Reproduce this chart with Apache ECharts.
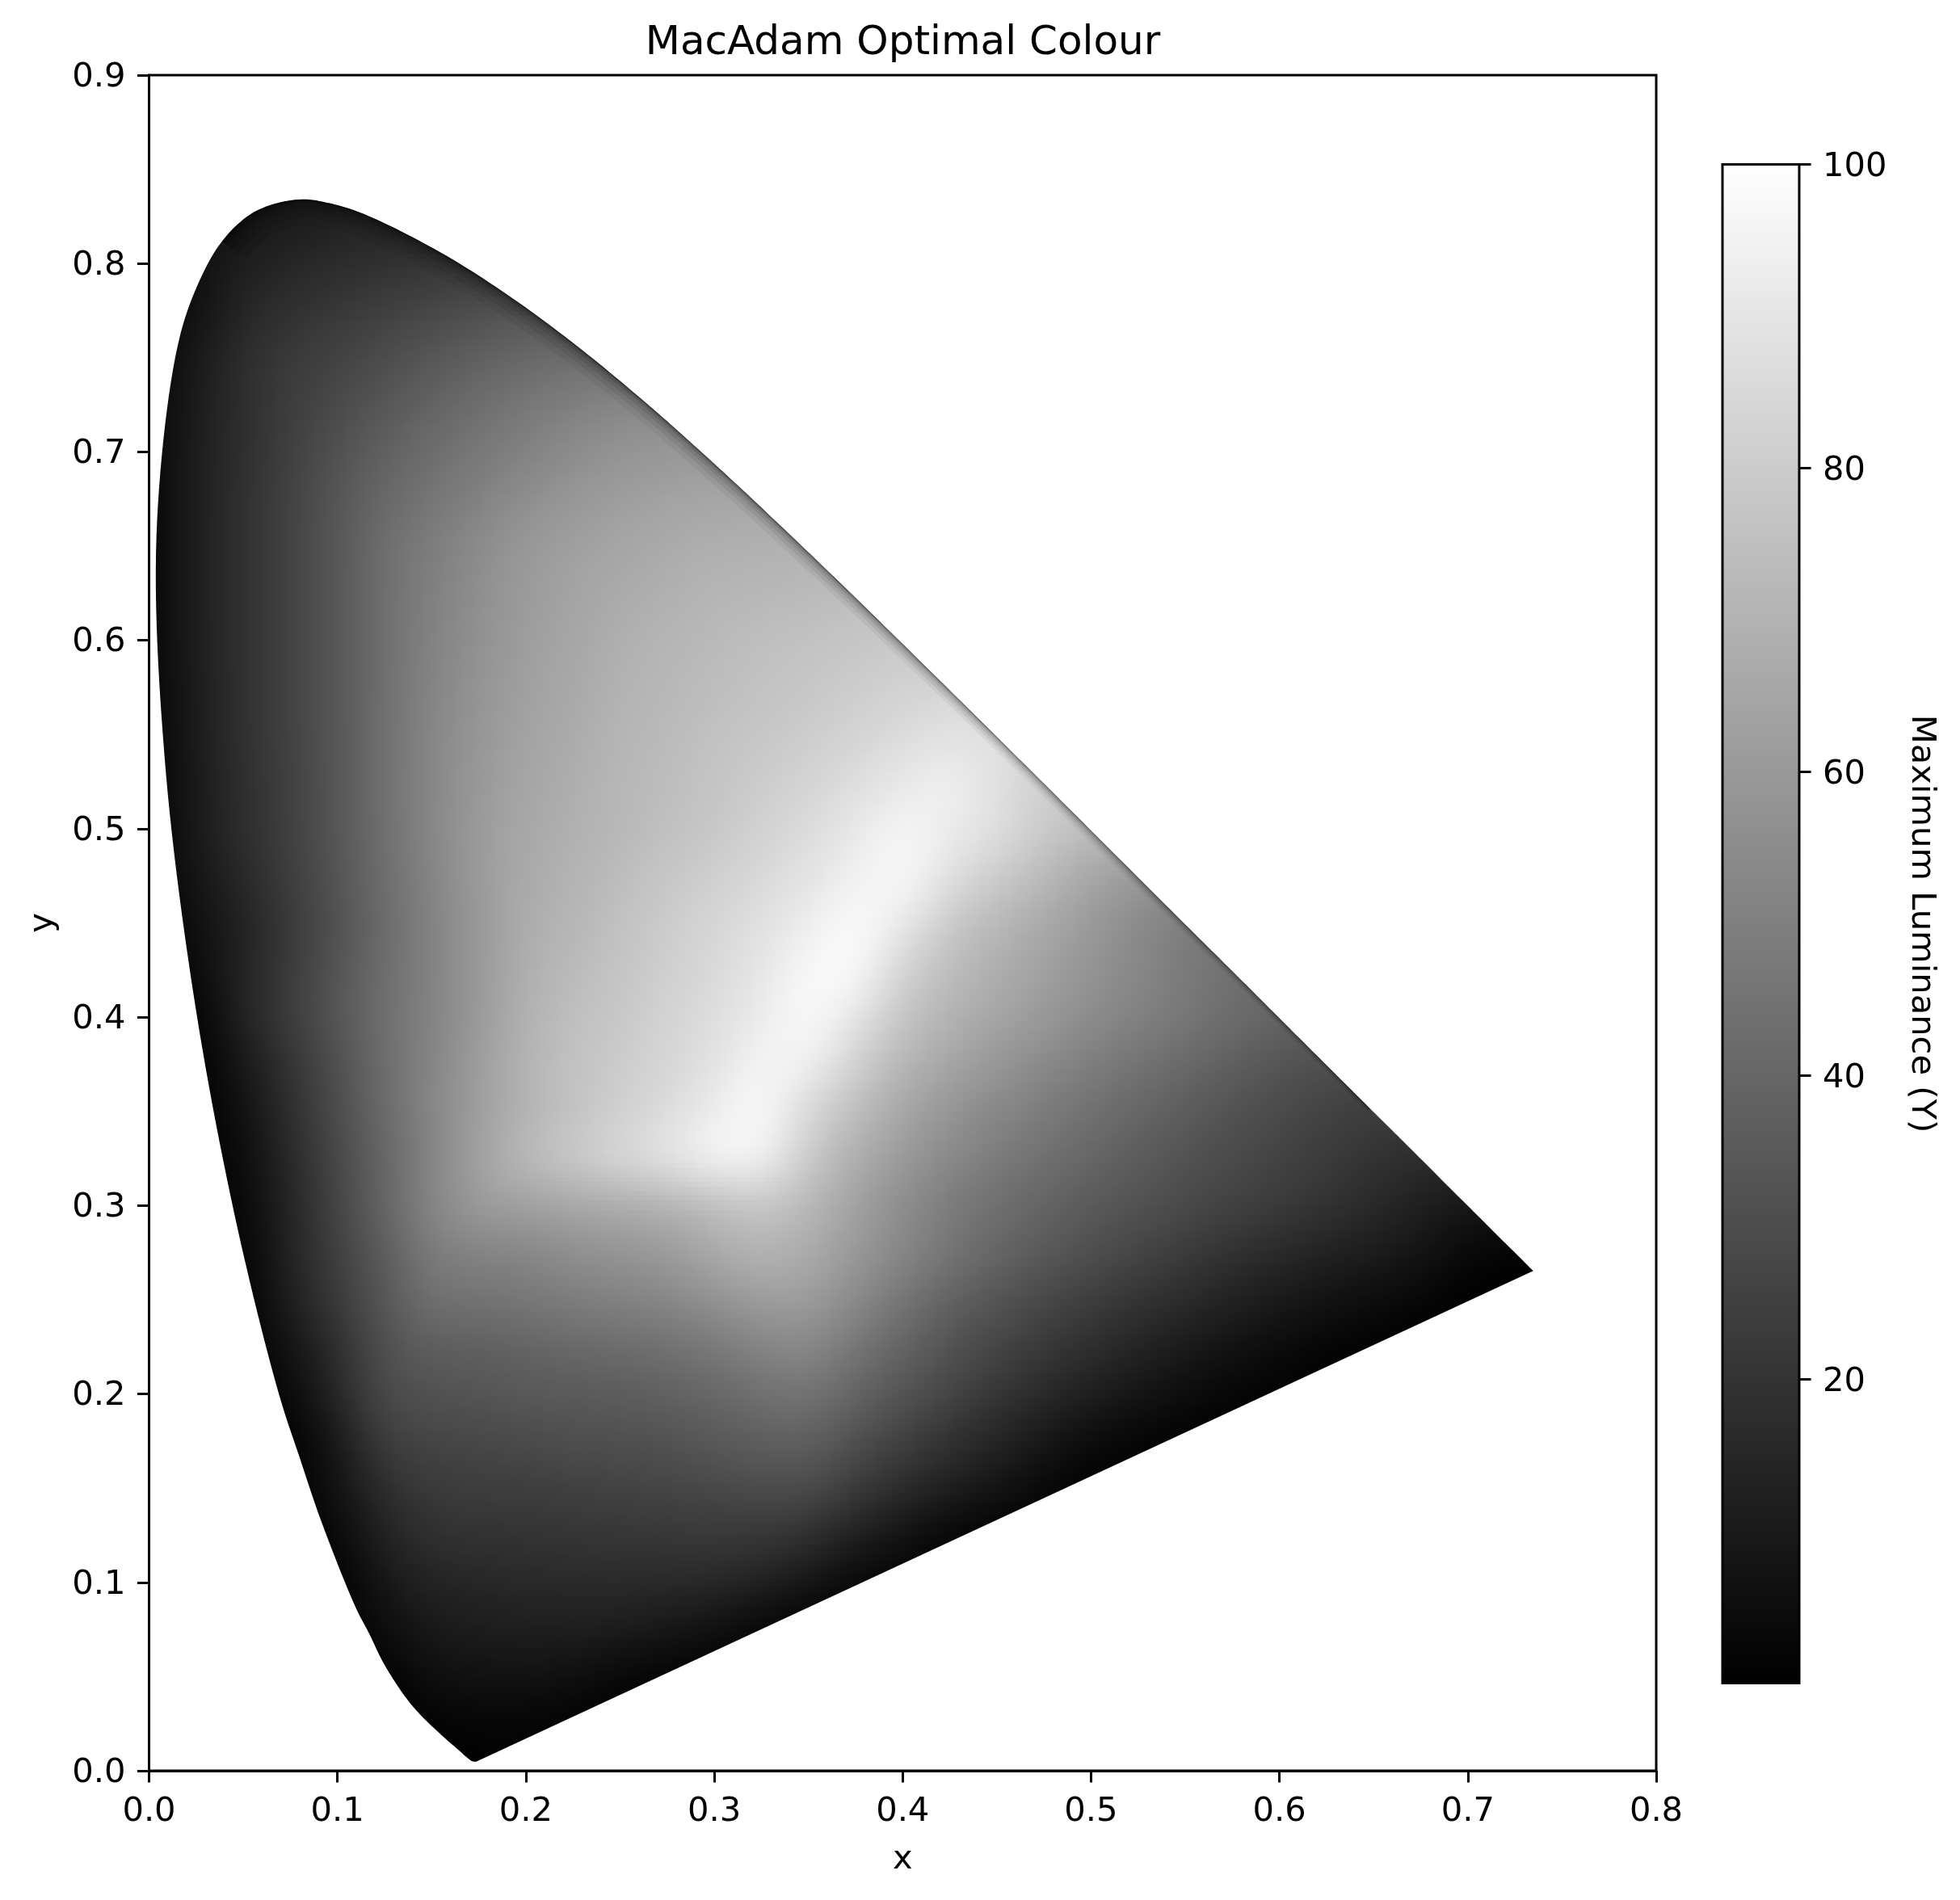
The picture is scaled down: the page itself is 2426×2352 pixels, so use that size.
<!DOCTYPE html>
<html><head><meta charset="utf-8">
<style>html,body{margin:0;padding:0;background:#fff}#c{width:2426px;height:2352px}</style>
<script src="https://cdn.jsdelivr.net/npm/echarts@6/dist/echarts.min.js"></script>
</head><body><div id="c"></div>
<script>
// Boundary of the diagram (x, y pairs in chromaticity units)
var locusX=[.1741,.1733,.1714,.1689,.1644,.1566,.1440,.1355,.1241,.1170,.1096,.0913,.0800,.0687,.0454,.0235,.0082,.0039,.0139,.0238,.0389,.0565,.0795,.0958,.1142,.1547,.1929,.2296,.2658,.3016,.3373,.3731,.4087,.4441,.4788,.5125,.5448,.5752,.6029,.6270,.6482,.6658,.6915,.7079,.7190,.7260,.7300,.7334,.7347];
var locusY=[.0050,.0048,.0051,.0069,.0109,.0177,.0297,.0399,.0578,.0725,.0868,.1327,.1660,.2007,.2950,.4127,.5384,.6548,.7502,.7840,.8120,.8277,.8340,.8320,.8262,.8059,.7816,.7543,.7243,.6923,.6589,.6245,.5896,.5547,.5202,.4866,.4544,.4242,.3965,.3725,.3514,.3340,.3083,.2920,.2809,.2740,.2700,.2666,.2653];
// Maximum luminance read at grid points: rows run from y=0.85 down to y=0, columns from x=0 in steps of 0.025
var gridStep=0.025;
var gridTopY=0.85;
var luminanceRows=[
[2,4,10,11,13,14],
[2,5,8,10,12,13,15],
[2,6,12,15,17,19,20,22],
[2,6,15,19,22,25,28,31,33],
[2,10,18,23,26,30,34,38,41,43],
[2,11,18,24,29,34,39,43,47,50,53,55],
[2,12,18,25,32,38,43,47,51,55,58,59,60],
[2,12,19,26,34,41,46,51,56,59,62,64,65,66],
[2,12,19,26,34,44,49,55,60,63,65,67,69,69,70],
[2,12,19,26,34,44,50,56,61,64,67,69,71,72,73,74],
[2,12,19,26,34,44,51,57,62,65,69,71,73,75,76,78,79],
[2,11,19,26,34,44,52,58,63,66,70,72,74,76,78,80,82,84],
[1,11,19,26,34,44,53,59,64,67,71,73,76,78,80,83,86,89,88],
[1,10,18,25,34,44,53,60,65,68,72,74,77,80,83,87,91,95,88,80],
[1,10,18,25,34,44,53,61,66,69,72,75,78,82,86,91,97,93,88,80,74],
[1,8,16,24,33,43,52,61,67,70,74,78,81,85,89,94,100,88,80,73,65,59],
[0,6,13,22,32,42,51,60,68,71,76,80,84,88,93,100,92,78,72,66,60,54,48],
[0,4,14,23,33,43,51,60,69,73,77,81,85,90,98,100,82,74,68,63,58,53,48,43],
[0,0,14,24,34,44,51,60,70,75,78,83,87,92,100,90,77,70,65,60,55,51,47,43,39],
[0,0,9,20,31,43,52,62,71,76,80,84,88,97,95,82,71,65,59,54,49,45,41,37,33,30],
[0,0,6,18,30,42,53,62,70,76,81,86,93,100,84,74,65,58,53,48,44,40,36,32,29,26,23],
[0,0,4,16,28,40,51,64,74,80,86,91,98,97,79,68,60,54,48,44,40,36,32,29,26,23,20,17],
[0,0,3,14,27,40,53,62,63,65,67,69,73,78,72,63,55,48,43,39,35,32,29,26,23,20,16,12,8],
[0,0,1,14,25,36,49,51,52,56,58,60,67,71,67,60,53,46,40,35,31,27,23,19,16,13,11,8,3,1],
[0,0,0,12,23,34,45,45,47,49,51,53,57,62,62,54,46,38,33,28,24,20,17,13,10,7,5,2,0],
[0,0,0,7,18,32,37,37,39,41,42,44,47,52,54,46,39,32,27,22,18,14,10,7,4,2,0.5,0],
[0,0,0,3,15,30,32,33,35,35,36,38,40,44,46,39,33,27,21,16,12,8,5,2,1,0],
[0,0,0,0,9,25,27,28,29,31,31,32,35,37,38,31,25,19,14,9,4,2,0,0],
[0,0,0,0,7,18,23,24,24,25,26,27,28,30,30,23,17,12,8,3,0,0],
[0,0,0,0,3,14,19,20,20,21,21,22,22,22,19,12,7,2,0,0],
[0,0,0,0,0,9,14,15,16,16,17,16,16,13,8,3,1,0],
[0,0,0,0,0,5,10,11,12,12,11,9,6,2,0],
[0,0,0,0,0,0,6,7,7,6,3,1,0],
[0,0,0,0,0,0,1,2,2,1,0],
[0,0,0,0,0,0,0,1,1,0]
];
var barTicks=[20,40,60,80,100];
var barRange=[0,100];

var FONT='"DejaVu Sans"';
var ROWS=luminanceRows.length,COLS=31;
function val(r,c){
  r=Math.max(0,Math.min(ROWS-1,r));c=Math.max(0,Math.min(COLS-1,c));
  var row=luminanceRows[r];return c<row.length?row[c]:row[row.length-1];
}
function gray(v){var g=Math.max(0,Math.min(255,Math.round(v*2.55)));return 'rgb('+g+','+g+','+g+')';}
function bw(t){var t2=t*t,t3=t2*t;return [(1-t)*(1-t)*(1-t)/6,(3*t3-6*t2+4)/6,(-3*t3+3*t2+3*t+1)/6,t3/6];}
// smooth shading of a grid cell between the values read at its neighbouring grid points
function shade(r,c,tr,tc){
  var a=bw(tr),b=bw(tc),s=0;
  for(var i=0;i<4;i++)for(var j=0;j<4;j++)s+=a[i]*b[j]*val(r-1+i,c-1+j);
  return s;
}
var cells=[];
for(var r=0;r<ROWS-1;r++){
  for(var c=0;c<COLS-1;c++){
    cells.push([c*gridStep,gridTopY-(r+1)*gridStep,r,c]);
  }
}
var SUB=12,cachePts=null;
// centripetal Catmull-Rom through the boundary points
function crPoint(P0,P1,P2,P3,u){
  function tj(ti,a,b){return ti+Math.pow(Math.hypot(b[0]-a[0],b[1]-a[1]),.5)+1e-6;}
  var t0=0,t1=tj(t0,P0,P1),t2=tj(t1,P1,P2),t3=tj(t2,P2,P3),t=t1+(t2-t1)*u,q=[0,0];
  for(var d=0;d<2;d++){
    var A1=(t1-t)/(t1-t0)*P0[d]+(t-t0)/(t1-t0)*P1[d];
    var A2=(t2-t)/(t2-t1)*P1[d]+(t-t1)/(t2-t1)*P2[d];
    var A3=(t3-t)/(t3-t2)*P2[d]+(t-t2)/(t3-t2)*P3[d];
    var B1=(t2-t)/(t2-t0)*A1+(t-t0)/(t2-t0)*A2;
    var B2=(t3-t)/(t3-t1)*A2+(t-t1)/(t3-t1)*A3;
    q[d]=(t2-t)/(t2-t1)*B1+(t-t1)/(t2-t1)*B2;
  }
  return q;
}
function locusPoints(api){
  if(cachePts)return cachePts;
  var p=locusX.map(function(x,i){return api.coord([x,locusY[i]]);}),out=[],n=p.length;
  for(var i=0;i<n-1;i++){
    var p0=i>0?p[i-1]:[2*p[0][0]-p[1][0],2*p[0][1]-p[1][1]];
    var p3=i<n-2?p[i+2]:[2*p[n-1][0]-p[n-2][0],2*p[n-1][1]-p[n-2][1]];
    for(var k=0;k<SUB;k++){out.push(crPoint(p0,p[i],p[i+1],p3,k/SUB));}
  }
  out.push(p[n-1]);
  cachePts=out;return out;
}
var STRIPS=10,STOPS=4;
function renderCell(params,api){
  var x=api.value(0),y=api.value(1),r=api.value(2),c=api.value(3);
  var p0=api.coord([x,y+gridStep]),p1=api.coord([x+gridStep,y]);
  var X0=Math.round(p0[0]),X1=Math.round(p1[0]),Y0=Math.round(p0[1]),Y1=Math.round(p1[1]);
  var kids=[];
  for(var i=0;i<STRIPS;i++){
    var a=Math.round(Y0+(Y1-Y0)*i/STRIPS),b=Math.round(Y0+(Y1-Y0)*(i+1)/STRIPS);
    var t=(i+.5)/STRIPS,stops=[];
    for(var s=0;s<=STOPS;s++){stops.push({offset:s/STOPS,color:gray(shade(r,c,t,s/STOPS))});}
    kids.push({type:'rect',silent:true,shape:{x:X0,y:a,width:X1-X0,height:b-a},
      style:{fill:new echarts.graphic.LinearGradient(0,0,1,0,stops)}});
  }
  return {type:'group',silent:true,clipPath:{type:'polygon',shape:{points:locusPoints(api)}},children:kids};
}
var EDGE_FROM=locusX.indexOf(.0389),EDGE_TO=locusX.indexOf(.6482);
var edgeWidth=[32,5];
var edgeLayers=[[1,.05],[.7,.07],[.45,.09],[.25,.12],[.12,.18],[.05,.35]];
function renderEdge(params,api){
  var pts=locusPoints(api),kids=[];
  var A=EDGE_FROM*SUB,B=EDGE_TO*SUB;
  edgeLayers.forEach(function(l){
    var inner=[],outer=[];
    for(var i=A;i<=B;i++){
      var f=(i-A)/(B-A);
      var W=(edgeWidth[0]*Math.pow(1-f,1.3)+edgeWidth[1])*l[0];
      var tx=pts[i+1][0]-pts[i-1][0],ty=pts[i+1][1]-pts[i-1][1],n=Math.sqrt(tx*tx+ty*ty);
      outer.push(pts[i]);
      inner.unshift([pts[i][0]-ty/n*W,pts[i][1]+tx/n*W]);
    }
    kids.push({type:'polygon',silent:true,shape:{points:outer.concat(inner)},style:{fill:'#000',opacity:l[1]}});
  });
  return {type:'group',silent:true,clipPath:{type:'polygon',shape:{points:pts}},children:kids};
}
function renderBar(params,api){
  var a=api.coord([0,api.value(0)]),b=api.coord([1,api.value(1)]);
  return {type:'rect',silent:true,shape:{x:a[0],y:b[1],width:b[0]-a[0],height:a[1]-b[1]},
    style:{stroke:'#000',lineWidth:3,fill:new echarts.graphic.LinearGradient(0,0,0,1,[{offset:0,color:gray(api.value(1))},{offset:1,color:gray(api.value(0))}])}};
}
function renderBarTick(params,api){
  var p=api.coord([1,api.value(0)]);
  return {type:'line',silent:true,shape:{x1:p[0],y1:p[1],x2:p[0]+14.6,y2:p[1]},style:{stroke:'#000',lineWidth:3}};
}
var axisTxt={color:'#000',fontFamily:FONT,fontSize:41.67};
var line={lineStyle:{color:'#000',width:3}};
var tick={show:true,length:14.6,lineStyle:{color:'#000',width:3}};
var chart=echarts.init(document.getElementById('c'),null,{renderer:'canvas',width:2426,height:2352});
chart.setOption({
  animation:false,backgroundColor:'#fff',
  title:{text:'MacAdam Optimal Colour',left:1112.5,top:24,textAlign:'center',
    textStyle:{color:'#000',fontFamily:FONT,fontSize:50,fontWeight:'normal'}},
  grid:[
    {left:184.5,top:93,width:1865.5,height:2099,show:true,borderColor:'#000',borderWidth:3,backgroundColor:'#fff'},
    {left:2132,top:203.5,width:95,height:1880,show:false}
  ],
  xAxis:[
    {gridIndex:0,type:'value',min:0,max:.8,interval:.1,name:'x',nameLocation:'middle',nameGap:89,
      nameTextStyle:axisTxt,axisLine:Object.assign({show:true},line),axisTick:tick,splitLine:{show:false},
      axisLabel:Object.assign({margin:30,formatter:function(v){return v.toFixed(1);},showMaxLabel:true,showMinLabel:true},axisTxt)},
    {gridIndex:1,type:'value',min:0,max:1,show:false}
  ],
  yAxis:[
    {gridIndex:0,type:'value',min:0,max:.9,interval:.1,name:'y',nameLocation:'middle',nameGap:110,nameRotate:90,
      nameTextStyle:axisTxt,axisLine:Object.assign({show:true},line),axisTick:tick,splitLine:{show:false},
      axisLabel:Object.assign({margin:29,verticalAlign:'top',lineHeight:6,formatter:function(v){return v.toFixed(1);},showMaxLabel:true,showMinLabel:true},axisTxt)},
    {gridIndex:1,type:'value',min:barRange[0],max:barRange[1],position:'right',name:'Maximum Luminance (Y)',
      nameLocation:'middle',nameGap:130,nameRotate:-90,nameTextStyle:axisTxt,
      axisLine:{show:false},axisTick:{show:false},splitLine:{show:false},
      axisLabel:Object.assign({margin:29,verticalAlign:'top',lineHeight:8,customValues:barTicks,formatter:function(v){return String(v);},showMaxLabel:true},axisTxt)}
  ],
  series:[
    {type:'custom',name:'luminance',xAxisIndex:0,yAxisIndex:0,data:cells,renderItem:renderCell,silent:true,z:2,
      encode:{x:0,y:1}},
    {type:'custom',name:'edge',xAxisIndex:0,yAxisIndex:0,data:[[0,0]],renderItem:renderEdge,silent:true,z:3,
      encode:{x:0,y:1}},
    {type:'custom',name:'colourbar',xAxisIndex:1,yAxisIndex:1,data:[barRange],renderItem:renderBar,silent:true,z:2,
      encode:{y:[0,1]}},
    {type:'custom',name:'colourbar ticks',xAxisIndex:1,yAxisIndex:1,data:barTicks.map(function(v){return [v];}),renderItem:renderBarTick,silent:true,z:3,
      encode:{y:0}}
  ]
});
</script></body></html>
